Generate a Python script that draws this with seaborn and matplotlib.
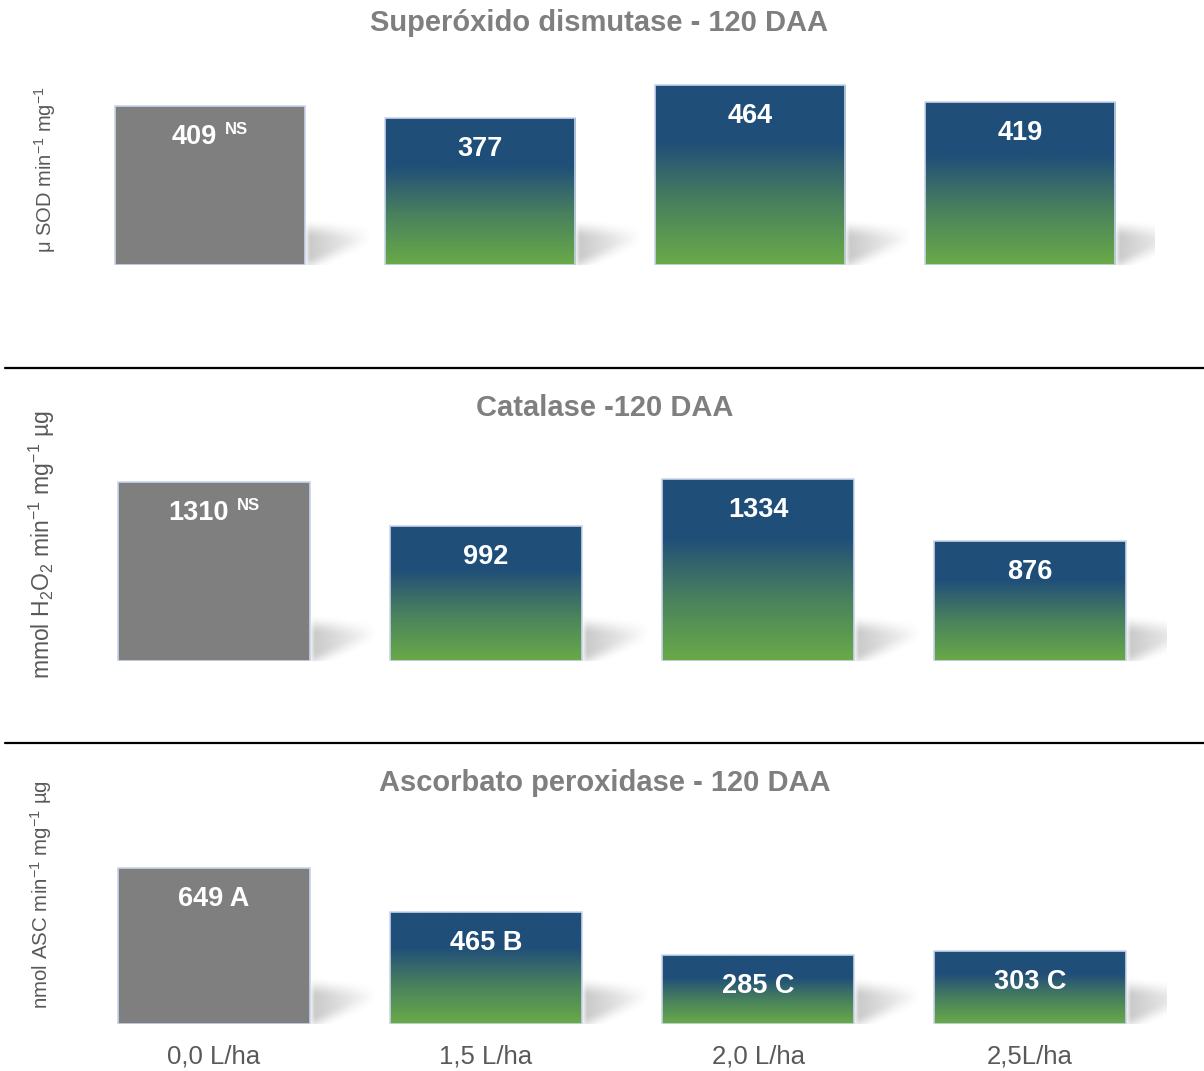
import numpy as np
import matplotlib
matplotlib.use("Agg")
import matplotlib.pyplot as plt
import seaborn as sns
from matplotlib.colors import LinearSegmentedColormap
from matplotlib.lines import Line2D

# ---- data -------------------------------------------------------------
doses = ["0,0 L/ha", "1,5 L/ha", "2,0 L/ha", "2,5L/ha"]

sod_values = [409, 377, 464, 419]
sod_marks = ["NS", "", "", ""]

cat_values = [1310, 992, 1334, 876]
cat_marks = ["NS", "", "", ""]

apx_values = [649, 465, 285, 303]
apx_marks = ["A", "B", "C", "C"]

titles = ["Superóxido dismutase - 120 DAA",
          "Catalase -120 DAA",
          "Ascorbato peroxidase - 120 DAA"]
ylabels = [r"μ SOD min$^{-1}$ mg$^{-1}$",
           r"mmol H$_2$O$_2$ min$^{-1}$ mg$^{-1}$ µg",
           r"nmol ASC min$^{-1}$ mg$^{-1}$ µg"]

# ---- style ------------------------------------------------------------
W, H, DPI = 1204, 1071, 100
sns.set_style("white")
plt.rcParams["font.family"] = ["Liberation Sans", "DejaVu Sans"]
plt.rcParams["mathtext.fontset"] = "custom"
plt.rcParams["mathtext.rm"] = "Liberation Sans"
plt.rcParams["mathtext.it"] = "Liberation Sans:italic"
plt.rcParams["mathtext.bf"] = "Liberation Sans:bold"

GRAY_BAR = "#7f7f7f"
EDGE = "#c8d5eb"
TITLE_C = "#7f7f7f"
TEXT_C = "#595959"
bar_cmap = LinearSegmentedColormap.from_list(
    "bluegreen",
    [(0.0, "#6aaa48"), (0.33, "#4a835c"), (0.52, "#35666c"),
     (0.68, "#1f4e79"), (1.0, "#1f4e79")])

fig = plt.figure(figsize=(W / DPI, H / DPI), dpi=DPI)


def px_axes(left, top, right, bottom):
    return fig.add_axes([left / W, 1 - bottom / H,
                         (right - left) / W, (bottom - top) / H])


def shadow_image():
    # soft slanted floor shadow, in pixel units to the right of a bar
    dx = np.linspace(0, 75, 151)
    dy = np.linspace(-4, 56, 121)
    X, Y = np.meshgrid(dx, dy)
    lower = 0.42 * X - 2
    upper = 37 - 0.08 * X

    def smooth(d, soft):
        t = np.clip(d / soft + 0.5, 0, 1)
        return t * t * (3 - 2 * t)

    a = smooth(Y - lower, 18) * smooth(upper - Y, 20)
    a *= np.clip(1 - X / 66, 0, 1) ** 0.9
    a *= smooth(X - 2, 8)
    rgba = np.zeros(X.shape + (4,))
    rgba[..., :3] = 0.5
    rgba[..., 3] = 0.44 * a
    return rgba, (0, 75, -4, 56)


SHADOW, SH_EXT = shadow_image()

panels = [
    dict(values=sod_values, marks=sod_marks, box=(75, 45, 1155, 265),
         ymax=566, title_y=31, ylab_xy=(45, 170), ylab_size=14.5),
    dict(values=cat_values, marks=cat_marks, box=(78, 440, 1166, 661),
         ymax=1620, title_y=416, ylab_xy=(42, 545), ylab_size=16.5),
    dict(values=apx_values, marks=apx_marks, box=(78, 815, 1166, 1024),
         ymax=867, title_y=791, ylab_xy=(41, 895), ylab_size=14.8),
]
title_x = [599, 605, 605]

VAL_SIZE = 19.5
VAL_DY = -38
SUP_DY = -28

sup_pairs = []
for i, p in enumerate(panels):
    left, top, right, bottom = p["box"]
    ax = px_axes(left, top, right, bottom)
    px_x = (right - left) / 4.0          # pixels per category unit
    px_y = (bottom - top) / p["ymax"]    # pixels per value unit

    sns.barplot(x=doses, y=p["values"], ax=ax, width=0.705,
                color=GRAY_BAR, saturation=1, edgecolor=EDGE,
                linewidth=1.2, zorder=3)

    for j, patch in enumerate(ax.patches):
        x0, w, h = patch.get_x(), patch.get_width(), patch.get_height()
        # shadow on the floor to the right of the bar
        e = SH_EXT
        ax.imshow(SHADOW, origin="lower", aspect="auto", zorder=1,
                  interpolation="bilinear",
                  extent=(x0 + w + e[0] / px_x, x0 + w + e[1] / px_x,
                          e[2] / px_y, e[3] / px_y))
        if j > 0:
            patch.set_facecolor("none")
            grad = np.linspace(0, 1, 256).reshape(-1, 1)
            im = ax.imshow(grad, cmap=bar_cmap, origin="lower",
                           aspect="auto", zorder=2, interpolation="bilinear",
                           extent=(x0, x0 + w, 0, h))
            im.set_clip_path(patch)

        xc = x0 + w / 2
        mark = p["marks"][j]
        if mark == "NS":
            t1 = ax.annotate(f"{p['values'][j]}", xy=(xc, h),
                             xytext=(0, VAL_DY), textcoords="offset pixels",
                             ha="left", va="baseline", color="white",
                             fontsize=VAL_SIZE, fontweight="bold", zorder=5)
            t2 = ax.annotate(mark, xy=(xc, h), xytext=(0, SUP_DY),
                             textcoords="offset pixels", ha="left",
                             va="baseline", color="white", fontsize=12,
                             fontweight="bold", zorder=5)
            sup_pairs.append((t1, t2))
        else:
            label = f"{p['values'][j]}" + (f" {mark}" if mark else "")
            ax.annotate(label, xy=(xc, h), xytext=(0, VAL_DY),
                        textcoords="offset pixels", ha="center",
                        va="baseline", color="white", fontsize=VAL_SIZE,
                        fontweight="bold", zorder=5)

    ax.set_xlim(-0.5, 3.5)
    ax.set_ylim(0, p["ymax"])
    ax.set_yticks([])
    ax.set_xlabel("")
    ax.set_ylabel("")
    ax.set_facecolor("none")
    sns.despine(ax=ax, left=True, bottom=True)
    if i < 2:
        ax.tick_params(axis="x", length=0, labelbottom=False)
    else:
        ax.tick_params(axis="x", length=0, pad=15, labelsize=18.5,
                       labelcolor=TEXT_C)

    fig.text(title_x[i] / W, 1 - p["title_y"] / H, titles[i],
             ha="center", va="baseline", fontsize=21,
             fontweight="bold", color=TITLE_C)
    fig.text(p["ylab_xy"][0] / W, 1 - p["ylab_xy"][1] / H, ylabels[i],
             rotation=90, ha="center", va="center",
             fontsize=p["ylab_size"], color=TEXT_C)

# horizontal separators between the three panels
for yp in (368, 743):
    fig.add_artist(Line2D([5 / W, 1.0], [1 - yp / H] * 2,
                          color="black", lw=1.6))

# centre "value + superscript" groups over their bars
fig.canvas.draw()
renderer = fig.canvas.get_renderer()
for t1, t2 in sup_pairs:
    w1 = t1.get_window_extent(renderer).width
    w2 = t2.get_window_extent(renderer).width
    gap = 8
    total = w1 + gap + w2
    t1.xyann = (-total / 2, VAL_DY)
    t2.xyann = (-total / 2 + w1 + gap, SUP_DY)

fig.savefig("out.png", dpi=DPI, facecolor="white")
